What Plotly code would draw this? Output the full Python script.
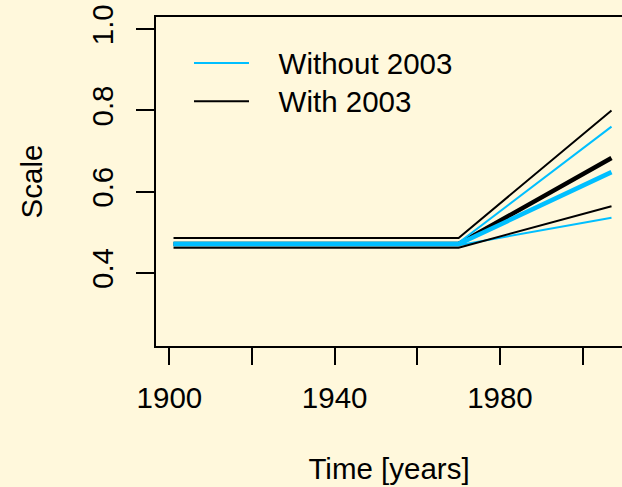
import plotly.graph_objects as go

years = [1901, 1970, 2007]

# series values (Scale)
with_upper = [0.486, 0.486, 0.800]
with_mid = [0.471, 0.471, 0.683]
with_lower = [0.462, 0.462, 0.564]
without_upper = [0.474, 0.474, 0.760]
without_mid = [0.471, 0.471, 0.648]
without_lower = [0.468, 0.468, 0.536]

x_tick_vals = [1900, 1920, 1940, 1960, 1980, 2000]
x_tick_text = ["1900", "", "1940", "", "1980", ""]
y_tick_vals = [0.4, 0.6, 0.8, 1.0]
y_tick_text = ["0.4", "0.6", "0.8", "1.0"]

legend_names = ["Without 2003", "With 2003"]

BLUE = "#00BFFF"
BLACK = "#000000"
BG = "#FFF8DC"
FONT = "Liberation Sans, Arial, sans-serif"
FS = 29.5


def legend_label(s):
    return '<span style="font-size:%spx">\u00a0\u00a0\u00a0%s</span>' % (FS, s)


fig = go.Figure()
fig.add_trace(go.Scatter(x=years, y=with_mid, mode="lines", line=dict(color=BLACK, width=4.5), showlegend=False))
fig.add_trace(go.Scatter(x=years, y=without_mid, mode="lines", line=dict(color=BLUE, width=4.5), showlegend=False))
fig.add_trace(go.Scatter(x=years, y=without_upper, mode="lines", line=dict(color=BLUE, width=2),
                         name=legend_label(legend_names[0])))
fig.add_trace(go.Scatter(x=years, y=without_lower, mode="lines", line=dict(color=BLUE, width=2), showlegend=False))
fig.add_trace(go.Scatter(x=years, y=with_upper, mode="lines", line=dict(color=BLACK, width=2),
                         name=legend_label(legend_names[1])))
fig.add_trace(go.Scatter(x=years, y=with_lower, mode="lines", line=dict(color=BLACK, width=2), showlegend=False))

fig.update_layout(
    width=622, height=487,
    margin=dict(l=156, r=0, t=17, b=141, pad=0),
    paper_bgcolor=BG, plot_bgcolor=BG,
    font=dict(family=FONT, size=FS, color="black"),
    showlegend=True,
    legend=dict(x=0.0708, y=0.933, xanchor="left", yanchor="top", bgcolor="rgba(0,0,0,0)",
                font=dict(size=27), itemwidth=55, tracegroupgap=0),
)
fig.update_xaxes(
    range=[1896.76, 2009.54], showgrid=False, zeroline=False,
    showline=True, linecolor="black", linewidth=2, mirror=True,
    tickmode="array", tickvals=x_tick_vals, ticktext=x_tick_text,
    ticks="outside", ticklen=17, tickwidth=2, tickcolor="black",
    tickfont=dict(size=FS), ticklabelstandoff=8,
    title=dict(text="Time [years]", standoff=45, font=dict(size=FS)),
)
fig.update_yaxes(
    range=[0.22, 1.03], showgrid=False, zeroline=False,
    showline=True, linecolor="black", linewidth=2, mirror=False,
    tickmode="array", tickvals=y_tick_vals, ticktext=y_tick_text, tickangle=-90,
    ticks="outside", ticklen=18, tickwidth=2, tickcolor="black",
    tickfont=dict(size=FS), ticklabelstandoff=11,
    title=dict(text="Scale", standoff=35, font=dict(size=FS)),
)

fig.write_html("out.html")
